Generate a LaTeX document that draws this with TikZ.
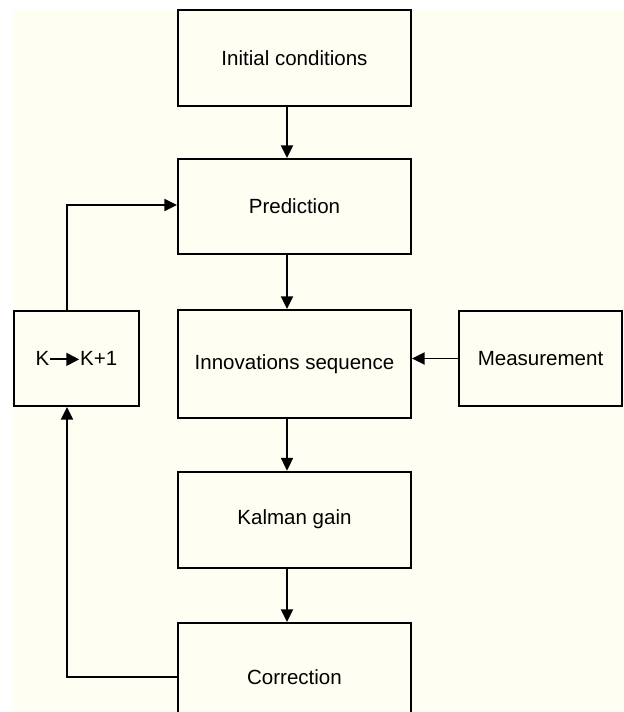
\documentclass[tikz,border=0pt]{standalone}
\usepackage{fontspec}
\setmainfont{Liberation Sans}
\usepackage{xcolor}
\definecolor{PaperCream}{RGB}{254,254,242}
\usetikzlibrary{arrows.meta,positioning}

\begin{document}
\begin{tikzpicture}[
  font=\fontsize{14.6}{17}\selectfont,
  block/.style={
    draw, line width=1.3pt,
    align=center, minimum width=5.825cm,
    minimum height=2.4cm, inner sep=0pt
  },
  sideblock/.style={block,
    minimum width=3.125cm, minimum height=2.375cm},
  arrow/.style={
    -{Triangle[length=3.2mm,width=3mm]},
    line width=1.4pt}
]
\useasboundingbox (0,0) rectangle (15.6,-17.8);
\clip (0,0) rectangle (15.6,-17.8);
\fill[PaperCream] (0.325,-0.25) rectangle (15.6,-17.8);

\node[block] (init) at (7.3625,-1.45) {Initial conditions};
\node[block, minimum height=2.375cm] (pred) at (7.3625,-5.1625)
  {Prediction};
\node[block, minimum height=2.7cm] (innov) at (7.3625,-9.1)
  {Innovations sequence};
\node[block] (gain) at (7.3625,-12.99) {Kalman gain};
\node[block, minimum height=2.7cm] (corr) at (7.3625,-16.925)
  {Correction};

\node[sideblock] (kstep) at (1.9125,-8.9625)
  {K\tikz[baseline=-0.55ex]\draw[-{Triangle[length=3.2mm,width=3.2mm]},
    line width=1.4pt] (0,0) -- (0.72,0);K+1};
\node[sideblock, minimum width=4.075cm] (meas) at (13.5125,-8.9625)
  {Measurement};

\coordinate (spine) at (7.175,0);
\coordinate (loopx) at (1.675,0);
\coordinate (loopy) at (0,-5.125);

\foreach \a/\b in {init/pred,pred/innov,innov/gain,gain/corr}{
  \draw[arrow] (\a.south -| spine) -- (\b.north -| spine);
}

\draw[arrow] (meas.west) -- (meas.west -| innov.east);
\draw[arrow] (corr.west) -| (kstep.south -| loopx);
\draw[arrow] (kstep.north -| loopx) |- (loopy -| pred.west);
\end{tikzpicture}
\end{document}
